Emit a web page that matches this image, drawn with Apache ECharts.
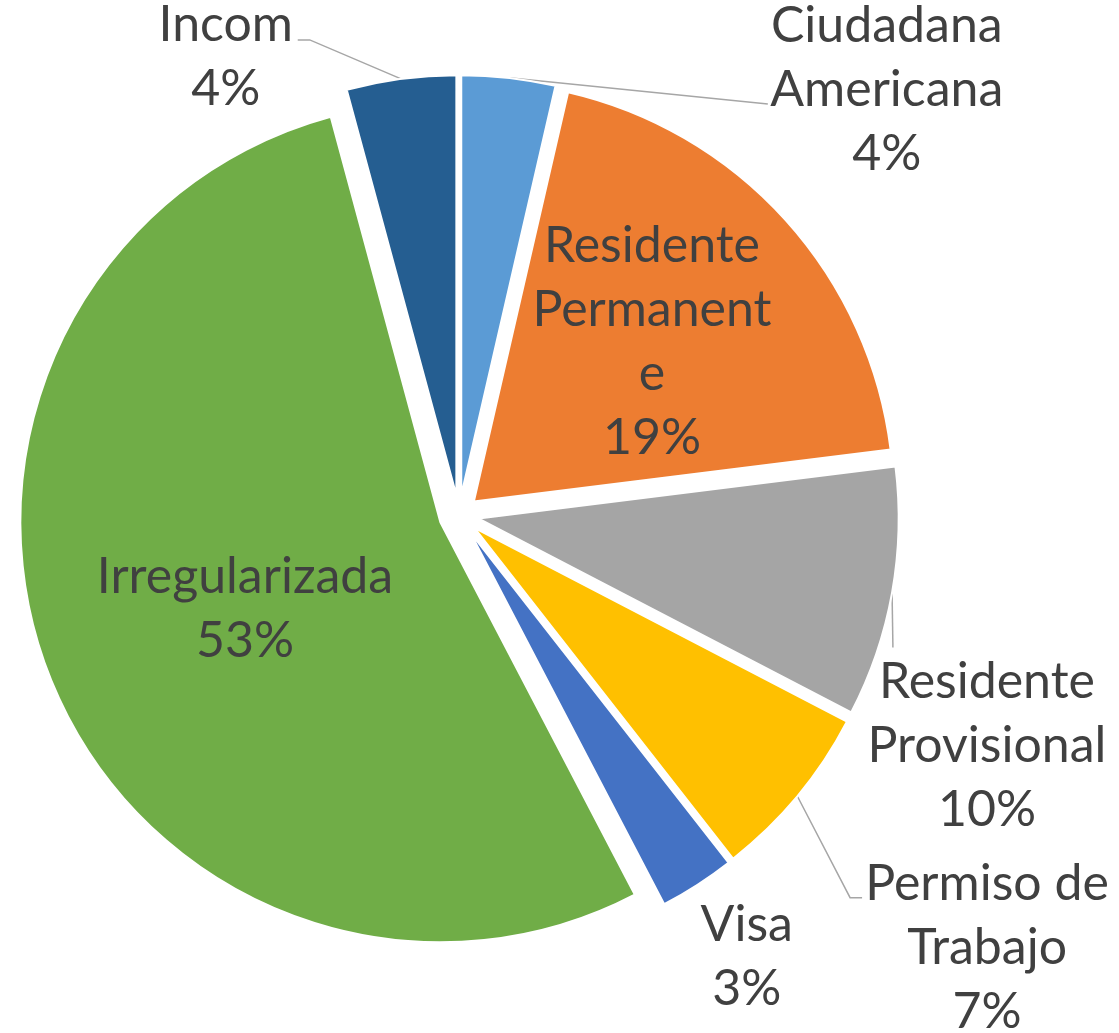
<!DOCTYPE html>
<html>
<head>
<meta charset="utf-8">
<script src="https://cdn.jsdelivr.net/npm/echarts@6/dist/echarts.min.js"></script>
<style>
    html, body { margin: 0; padding: 0; background: #fff; }
    #chartPie { width: 1119px; height: 1033px; }
</style>
</head>
<body>
<div id="chartPie"></div>
<script>
    // data (shares)
    var categories = ['Ciudadana Americana', 'Residente Permanente', 'Residente Provisional', 'Permiso de Trabajo', 'Visa', 'Irregularizada', 'Incom'];
    var labelTexts = ['Ciudadana\nAmericana', 'Residente\nPermanent\ne', 'Residente\nProvisional', 'Permiso de\nTrabajo', 'Visa', 'Irregularizada', 'Incom'];
    var shares = [3.6, 19.4, 9.6, 6.8, 2.9, 53.4, 4.2];
    var colorList = ['#5B9BD5', '#ED7D31', '#A5A5A5', '#FFC000', '#4472C4', '#70AD47', '#255E91'];
    var insideLabel = [false, true, false, false, false, true, false];

    // nudges of each label from where echarts puts it
    var labelShift = [[360, 22], [20, -17], [68, 151], [165, 145], [27, 64], [3, 9], [-157, -12]];
    // leader line bend / end, relative to the label centre
    var lineBend = [[-119, 14], null, [-94, -98], [-137, -50], null, null, [84, -17]];
    var lineEnd = [[-119, 14], null, [-94, -98], [-125, -50], null, null, [72, -17]];

    var chartPie = echarts.init(document.getElementById('chartPie'));

    var pieData = categories.map(function (name, i) {
        return {
            name: name,
            value: shares[i],
            selected: true,
            itemStyle: { color: colorList[i] },
            label: { position: insideLabel[i] ? 'inside' : 'outside' },
            labelLine: { show: lineEnd[i] !== null }
        };
    });

    chartPie.setOption({
        animation: false,
        series: [{
            type: 'pie',
            center: [459, 515],
            radius: 420,
            startAngle: 90,
            clockwise: true,
            selectedMode: 'multiple',
            selectedOffset: 20,
            avoidLabelOverlap: false,
            percentPrecision: 0,
            itemStyle: { borderColor: '#fff', borderWidth: 2 },
            label: {
                formatter: function (p) { return labelTexts[p.dataIndex] + '\n' + p.percent + '%'; },
                fontFamily: 'Lato',
                fontSize: 50,
                lineHeight: 64,
                color: '#404040'
            },
            labelLine: {
                length: 10,
                length2: 12,
                lineStyle: { color: '#A6A6A6', width: 1.5 }
            },
            select: { itemStyle: { borderColor: '#fff', borderWidth: 2 } },
            emphasis: { disabled: true },
            labelLayout: function (p) {
                var i = p.dataIndex;
                var r = p.labelRect;
                var ax = insideLabel[i] ? r.x + r.width / 2 : (p.align === 'right' ? r.x + r.width : r.x);
                var ay = r.y + r.height / 2;
                var res = {
                    dx: labelShift[i][0],
                    dy: labelShift[i][1],
                    align: 'center',
                    verticalAlign: 'middle'
                };
                if (lineEnd[i] && p.labelLinePoints) {
                    var lx = ax + labelShift[i][0];
                    var ly = ay + labelShift[i][1];
                    res.labelLinePoints = [
                        p.labelLinePoints[0],
                        [lx + lineBend[i][0], ly + lineBend[i][1]],
                        [lx + lineEnd[i][0], ly + lineEnd[i][1]]
                    ];
                }
                return res;
            },
            data: pieData
        }]
    });
</script>
</body>
</html>
